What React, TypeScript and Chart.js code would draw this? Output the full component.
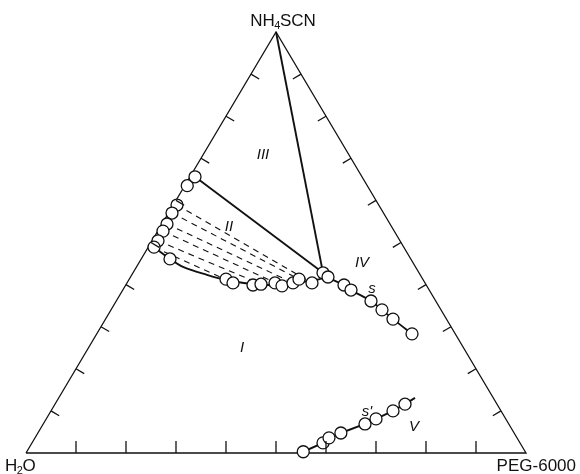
import React, { useEffect, useRef } from "react";
import { Chart, registerables } from "chart.js";
Chart.register(...registerables);

// Ternary compositions: [PEG-6000 %, NH4SCN %] (H2O is the remainder)
const triangleEdge: number[][] = [[0, 0], [100, 0], [0, 100], [0, 0]];
const tickValues = [10, 20, 30, 40, 50, 60, 70, 80, 90];

const invariantPoint = [38.0, 42.8];
const apexPoint = [0, 100];
const upperLeftPoint = [1.0, 65.6];

const leftPhasePoints: number[][] = [
  [0.5, 63.5], [1.0, 65.6], [0.75, 58.9], [0.7, 57.0], [1.0, 54.4],
  [1.05, 52.7], [1.2, 50.4], [1.15, 48.9], [5.75, 46.1],
];
const binodalPoints: number[][] = [
  [19.35, 41.3], [21.2, 40.4], [25.45, 39.9], [26.95, 40.1], [29.6, 40.4],
  [31.35, 39.7], [33.2, 40.4], [33.95, 41.3], [37.0, 40.4], [38.0, 42.8], [39.5, 41.8],
];
const binodalCurve: number[][] = [
  [1.15, 48.9], [5.75, 46.1], [9.3, 44.2], [15.05, 42.3], [19.45, 41.1], [25.75, 40.1],
  [31.25, 39.9], [34.5, 40.6], [37.45, 41.1], [39.1, 41.8],
];
const sCurvePoints: number[][] = [
  [43.65, 39.9], [45.65, 38.7], [50.95, 36.1], [54.2, 34.0], [57.5, 31.8], [63.05, 28.3],
];
const sPrimePoints: number[][] = [
  [55.3, 0.3], [58.2, 2.4], [58.8, 3.6], [60.6, 4.75], [64.35, 6.9],
  [65.95, 8.1], [68.4, 10.0], [70.0, 11.6],
];
const sPrimeLineStart = [54.5, 0];
const sPrimeLineEnd = [71.25, 13.1];

const tieLines: number[][][] = [
  [[0.75, 58.9], [37.0, 40.4]],
  [[0.7, 57.0], [33.95, 41.3]],
  [[1.0, 54.4], [33.2, 40.4]],
  [[1.05, 52.7], [31.35, 39.7]],
  [[1.2, 50.4], [26.95, 40.1]],
  [[1.15, 48.9], [21.2, 40.4]],
];

const regionLabels: { text: string; at: number[] }[] = [
  { text: "III", at: [12.0, 70.8] },
  { text: "II", at: [13.75, 53.7] },
  { text: "I", at: [30.75, 24.9] },
  { text: "IV", at: [44.65, 45.1] },
  { text: "s", at: [49.7, 39.0] },
  { text: "s'", at: [63.35, 9.7] },
  { text: "V", at: [74.5, 6.2] },
];

const toXY = (c: number[]) => ({ x: c[0] + c[1] / 2, y: c[1] });

const FONT = "'Liberation Sans', Arial, sans-serif";

function drawSub(ctx: CanvasRenderingContext2D, parts: { t: string; sub?: boolean }[], x: number, y: number, align: "left" | "center" | "right") {
  const big = `17px ${FONT}`;
  const small = `11px ${FONT}`;
  let total = 0;
  const widths = parts.map((p) => {
    ctx.font = p.sub ? small : big;
    const w = ctx.measureText(p.t).width - (p.sub ? 1 : 0);
    total += w;
    return w;
  });
  let cx = align === "left" ? x : align === "center" ? x - total / 2 : x - total;
  ctx.textAlign = "left";
  ctx.textBaseline = "alphabetic";
  parts.forEach((p, i) => {
    ctx.font = p.sub ? small : big;
    ctx.fillText(p.t, cx - (p.sub ? 0.5 : 0), p.sub ? y + 3 : y);
    cx += widths[i];
  });
}

const ternaryPlugin = {
  id: "ternaryDecor",
  afterDatasetsDraw(chart: any) {
    const { ctx, scales } = chart;
    const xs = scales.x, ys = scales.y;
    const px = (c: number[]) => [xs.getPixelForValue(c[0] + c[1] / 2), ys.getPixelForValue(c[1])];
    const A = px([0, 0]), B = px([100, 0]), C = px([0, 100]);
    const cen = [(A[0] + B[0] + C[0]) / 3, (A[1] + B[1] + C[1]) / 3];
    const sides: [number[], number[], number][] = [[A, B, 12], [B, C, 9.5], [C, A, 9.5]];
    ctx.save();
    ctx.strokeStyle = "#111";
    ctx.lineWidth = 1.3;
    for (const [P, Q, len] of sides) {
      const dx = Q[0] - P[0], dy = Q[1] - P[1];
      const L = Math.hypot(dx, dy);
      let nx = -dy / L, ny = dx / L;
      const mx = (P[0] + Q[0]) / 2, my = (P[1] + Q[1]) / 2;
      if ((cen[0] - mx) * nx + (cen[1] - my) * ny < 0) { nx = -nx; ny = -ny; }
      for (const v of tickValues) {
        const f = v / 100;
        const tx = P[0] + dx * f, ty = P[1] + dy * f;
        ctx.beginPath();
        ctx.moveTo(tx, ty);
        ctx.lineTo(tx + nx * len, ty + ny * len);
        ctx.stroke();
      }
    }
    ctx.fillStyle = "#111";
    ctx.font = `italic 15px ${FONT}`;
    ctx.textAlign = "center";
    ctx.textBaseline = "middle";
    for (const r of regionLabels) {
      const p = px(r.at);
      ctx.fillText(r.text, p[0], p[1]);
    }
    // vertex labels
    drawSub(ctx, [{ t: "NH" }, { t: "4", sub: true }, { t: "SCN" }], C[0] + 7, C[1] - 6, "center");
    drawSub(ctx, [{ t: "H" }, { t: "2", sub: true }, { t: "O" }], A[0] - 21, A[1] + 18, "left");
    ctx.font = `17px ${FONT}`;
    ctx.textAlign = "right";
    ctx.textBaseline = "alphabetic";
    ctx.fillText("PEG-6000", B[0] + 50, B[1] + 18);
    ctx.restore();
  },
};

export default function App() {
  const ref = useRef<HTMLCanvasElement>(null);
  useEffect(() => {
    if (!ref.current) return;
    const circleStyle = {
      type: "scatter" as const,
      pointRadius: 6,
      pointBackgroundColor: "#fff",
      pointBorderColor: "#111",
      pointBorderWidth: 1.3,
      showLine: false,
      clip: false as any,
      order: 0,
    };
    const lineStyle = (data: number[][], width: number, dash: number[] = [], tension = 0) => ({
      type: "line" as const,
      data: data.map(toXY),
      borderColor: "#111",
      borderWidth: width,
      borderDash: dash,
      pointRadius: 0,
      tension,
      fill: false,
      clip: false as any,
      order: 2,
    });
    const datasets: any[] = [
      { ...circleStyle, data: leftPhasePoints.map(toXY) },
      { ...circleStyle, data: binodalPoints.map(toXY) },
      { ...circleStyle, data: sCurvePoints.map(toXY) },
      { ...circleStyle, data: sPrimePoints.map(toXY) },
      lineStyle(triangleEdge, 1.3),
      lineStyle([apexPoint, invariantPoint], 1.9),
      lineStyle([upperLeftPoint, invariantPoint], 1.9),
      lineStyle(binodalCurve, 1.9, [], 0.35),
      lineStyle([[39.1, 41.8], ...sCurvePoints], 1.9, [], 0.2),
      lineStyle([sPrimeLineStart, ...sPrimePoints, sPrimeLineEnd], 1.9),
      ...tieLines.map((t) => lineStyle(t, 1.1, [6, 5])),
    ];
    const chart = new Chart(ref.current, {
      type: "scatter",
      data: { datasets },
      options: {
        animation: false,
        responsive: true,
        maintainAspectRatio: false,
        layout: { padding: { left: 26, right: 54, top: 32, bottom: 21 } },
        plugins: { legend: { display: false }, tooltip: { enabled: false } },
        scales: {
          x: { type: "linear", min: 0, max: 100, display: false },
          y: { type: "linear", min: 0, max: 100, display: false },
        },
      },
      plugins: [ternaryPlugin],
    });
    return () => chart.destroy();
  }, []);
  return (
    <div style={{ position: "fixed", left: 0, top: 0, width: 580, height: 474, background: "#fff" }}>
      <canvas ref={ref} />
    </div>
  );
}
